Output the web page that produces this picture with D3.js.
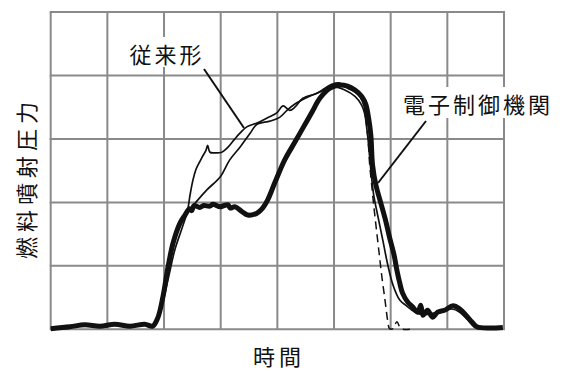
<!DOCTYPE html>
<html>
<head>
<meta charset="utf-8">
<script src="https://cdn.jsdelivr.net/npm/d3@7"></script>
<style>
  body { margin: 0; background: #fff; }
  text { font-family: "Noto Sans CJK JP", sans-serif; fill: #111; }
</style>
</head>
<body>
<script>
// 時間 (grid units 0..8) / 燃料噴射圧力 (grid units 0..5)
const ecuT = [0, 0.34, 0.6, 0.87, 1.13, 1.4, 1.66, 1.8, 1.89, 1.98, 2.07, 2.16, 2.28, 2.37, 2.45, 2.49, 2.53, 2.63, 2.7, 2.81, 2.86, 2.99, 3.06, 3.13, 3.17, 3.25, 3.37, 3.48, 3.64, 3.74, 3.83, 3.96, 4.13, 4.31, 4.45, 4.61, 4.75, 4.93, 5.1, 5.24, 5.37, 5.49, 5.56, 5.61, 5.65, 5.68, 5.74, 5.81, 5.9, 5.98, 6.06, 6.11, 6.16, 6.21, 6.3, 6.39, 6.48, 6.53, 6.57, 6.65, 6.74, 6.83, 6.95, 7.1, 7.22, 7.34, 7.43, 7.52, 7.75, 7.98];
const ecuP = [0.01, 0.04, 0.07, 0.05, 0.08, 0.05, 0.08, 0.05, 0.18, 0.51, 0.98, 1.36, 1.67, 1.8, 1.9, 1.87, 1.95, 1.92, 1.95, 1.94, 1.97, 1.93, 1.95, 1.96, 1.91, 1.93, 1.86, 1.8, 1.83, 1.91, 2.04, 2.32, 2.67, 2.95, 3.17, 3.42, 3.64, 3.8, 3.85, 3.83, 3.77, 3.67, 3.55, 3.33, 3.06, 2.59, 2.27, 2.04, 1.75, 1.45, 1.17, 0.93, 0.73, 0.57, 0.43, 0.35, 0.27, 0.38, 0.22, 0.3, 0.19, 0.27, 0.3, 0.37, 0.32, 0.21, 0.12, 0.04, 0.02, 0.03];

const convAT = [1.8, 1.93, 2.07, 2.19, 2.32, 2.41, 2.46, 2.51, 2.56, 2.6, 2.63, 2.67, 2.74, 2.77, 2.81, 2.9, 3.02, 3.13, 3.25, 3.34, 3.46, 3.64, 3.82, 3.99, 4.1, 4.22, 4.31, 4.45, 4.7, 4.84, 4.96, 5.1, 5.24, 5.37, 5.46, 5.53, 5.56, 5.6, 5.65, 5.7, 5.77, 5.86, 5.95, 6.04, 6.16, 6.28, 6.43, 6.6, 6.78, 6.95, 7.08, 7.22, 7.36, 7.48, 7.75];
const convAP = [0.05, 0.27, 0.78, 1.25, 1.6, 1.85, 2.12, 2.35, 2.51, 2.59, 2.64, 2.71, 2.82, 2.9, 2.79, 2.78, 2.79, 2.87, 3.0, 3.09, 3.19, 3.25, 3.33, 3.41, 3.52, 3.45, 3.5, 3.64, 3.72, 3.8, 3.86, 3.88, 3.8, 3.74, 3.66, 3.52, 3.3, 3.0, 2.51, 2.12, 1.8, 1.41, 1.01, 0.7, 0.46, 0.37, 0.27, 0.23, 0.26, 0.29, 0.32, 0.27, 0.15, 0.04, 0.01];

const convBT = [2.41, 2.55, 2.76, 2.99, 3.16, 3.34, 3.52, 3.64, 3.87, 4.04, 4.17, 4.31, 4.54, 4.75, 5.01, 5.19, 5.37, 5.49, 5.56];
const convBP = [1.85, 1.99, 2.2, 2.4, 2.67, 2.87, 3.09, 3.23, 3.28, 3.34, 3.45, 3.55, 3.66, 3.74, 3.82, 3.77, 3.67, 3.53, 3.33];

const dashT = [5.56, 5.6, 5.63, 5.67, 5.7, 5.74, 5.79, 5.84, 5.9, 5.95, 5.98, 6.04, 6.11, 6.18, 6.34];
const dashP = [3.33, 3.0, 2.59, 2.23, 1.96, 1.64, 1.25, 0.86, 0.46, 0.12, 0.01, 0.01, 0.12, 0.01, 0.0];

const gridX = d3.range(0, 9);
const gridY = d3.range(0, 6);

const width = 568, height = 371;
const svg = d3.select("body").append("svg")
    .attr("width", width)
    .attr("height", height);

const x = d3.scaleLinear().domain([0, 8]).range([50.7, 504]);
const y = d3.scaleLinear().domain([0, 5]).range([329.3, 12]);

// grid
svg.append("g").selectAll("line")
    .data(gridX)
    .enter().append("line")
    .attr("x1", d => x(d)).attr("x2", d => x(d))
    .attr("y1", y(0)).attr("y2", y(5))
    .attr("stroke", "#8a8a8a").attr("stroke-width", 2);
svg.append("g").selectAll("line")
    .data(gridY)
    .enter().append("line")
    .attr("y1", d => y(d)).attr("y2", d => y(d))
    .attr("x1", x(0) - 1).attr("x2", x(8) + 1)
    .attr("stroke", "#8a8a8a").attr("stroke-width", 2);

const line = d3.line()
    .x(d => x(d[0]))
    .y(d => y(d[1]))
    .curve(d3.curveCatmullRom);

function draw(ts, ps, w, dash) {
    svg.append("path")
        .datum(ts.map((t, i) => [t, ps[i]]))
        .attr("d", line)
        .attr("fill", "none")
        .attr("stroke", "#111")
        .attr("stroke-width", w)
        .attr("stroke-linejoin", "round")
        .attr("stroke-dasharray", dash);
}

draw(dashT, dashP, 1.5, "8,5");
draw(ecuT, ecuP, 5, null);
draw(convAT, convAP, 1.7, null);
draw(convBT, convBP, 1.7, null);

// leader lines
svg.append("line")
    .attr("x1", 204).attr("y1", 69).attr("x2", 244).attr("y2", 128)
    .attr("stroke", "#111").attr("stroke-width", 2);
svg.append("line")
    .attr("x1", 426).attr("y1", 121).attr("x2", 378).attr("y2", 183)
    .attr("stroke", "#111").attr("stroke-width", 2);

// labels with white boxes
svg.append("rect").attr("x", 124).attr("y", 37).attr("width", 86).attr("height", 30).attr("fill", "#fff");
svg.append("text")
    .attr("x", 167).attr("y", 53)
    .attr("text-anchor", "middle").attr("dominant-baseline", "central")
    .attr("font-size", 22).attr("letter-spacing", 3)
    .text("従来形");

svg.append("rect").attr("x", 397).attr("y", 87).attr("width", 162).attr("height", 31).attr("fill", "#fff");
svg.append("text")
    .attr("x", 478).attr("y", 103)
    .attr("text-anchor", "middle").attr("dominant-baseline", "central")
    .attr("font-size", 22).attr("letter-spacing", 3)
    .text("電子制御機関");

svg.append("text")
    .attr("x", 279).attr("y", 355)
    .attr("text-anchor", "middle").attr("dominant-baseline", "central")
    .attr("font-size", 22).attr("letter-spacing", 4)
    .text("時間");

svg.append("text")
    .attr("transform", "translate(25,178) rotate(-90)")
    .attr("text-anchor", "middle").attr("dominant-baseline", "central")
    .attr("font-size", 22).attr("letter-spacing", 5)
    .text("燃料噴射圧力");
</script>
</body>
</html>
